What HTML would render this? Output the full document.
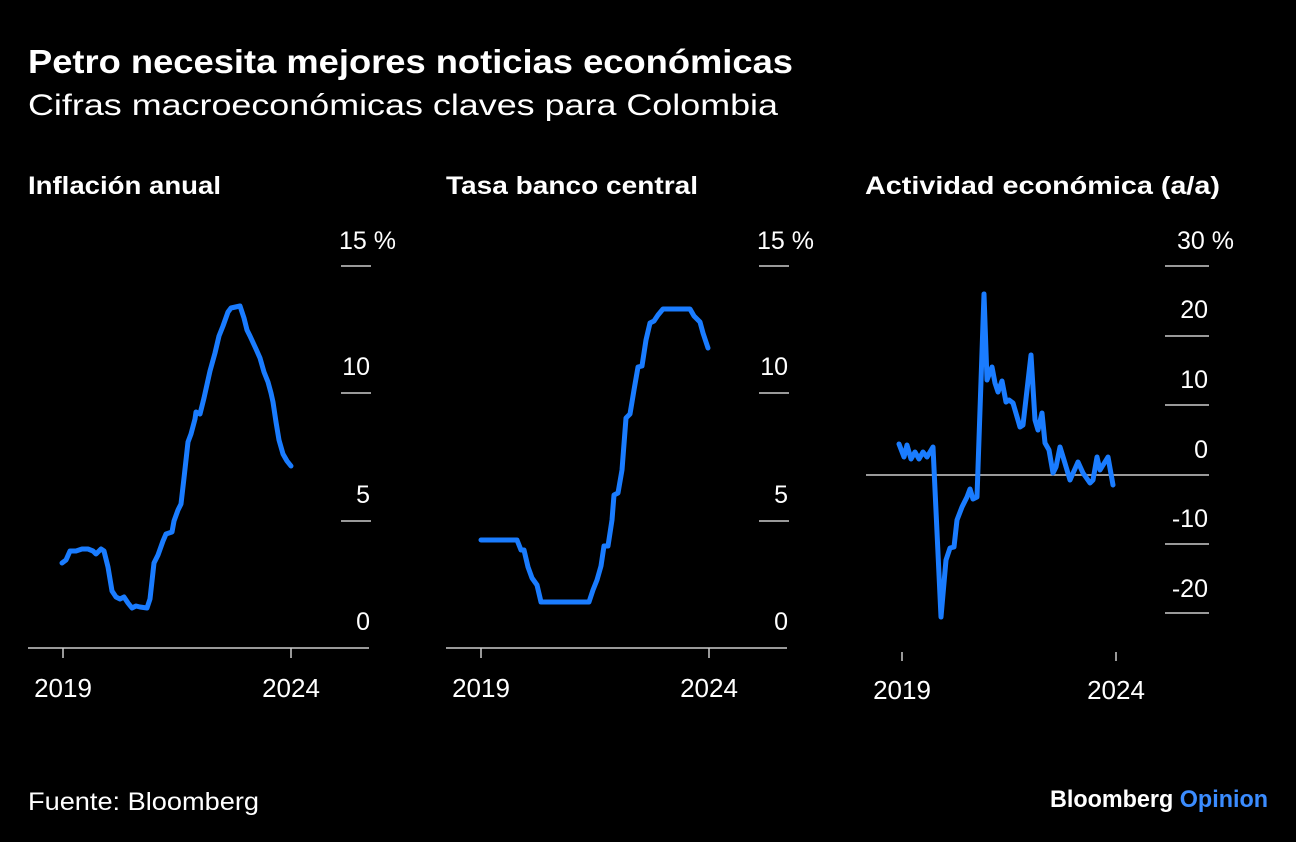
<!DOCTYPE html>
<html><head><meta charset="utf-8"><style>
html,body{margin:0;padding:0;background:#000;}
svg{display:block;font-family:"Liberation Sans",sans-serif;}
</style></head><body>
<svg width="1296" height="842" viewBox="0 0 1296 842" xmlns="http://www.w3.org/2000/svg">
<rect width="1296" height="842" fill="#000"/>
<text x="28" y="73" fill="#fff" font-size="33" font-weight="bold" textLength="765" lengthAdjust="spacingAndGlyphs">Petro necesita mejores noticias económicas</text>
<text x="28" y="115" fill="#fff" font-size="30" textLength="750" lengthAdjust="spacingAndGlyphs">Cifras macroeconómicas claves para Colombia</text>
<g fill="#fff" font-size="25" font-weight="bold">
<text x="28" y="194" textLength="193" lengthAdjust="spacingAndGlyphs">Inflación anual</text>
<text x="446" y="194" textLength="252" lengthAdjust="spacingAndGlyphs">Tasa banco central</text>
<text x="865" y="194" textLength="355" lengthAdjust="spacingAndGlyphs">Actividad económica (a/a)</text>
</g>
<g stroke="#ccc" stroke-width="1.5" fill="none">
<line x1="341" y1="266" x2="371" y2="266"/><line x1="341" y1="393" x2="371" y2="393"/><line x1="341" y1="521" x2="371" y2="521"/>
<line x1="28" y1="648" x2="369" y2="648"/><line x1="63" y1="648" x2="63" y2="658"/><line x1="291" y1="648" x2="291" y2="658"/>
<line x1="759" y1="266" x2="789" y2="266"/><line x1="759" y1="393" x2="789" y2="393"/><line x1="759" y1="521" x2="789" y2="521"/>
<line x1="446" y1="648" x2="787" y2="648"/><line x1="481" y1="648" x2="481" y2="658"/><line x1="709" y1="648" x2="709" y2="658"/>
<line x1="1165" y1="266" x2="1209" y2="266"/><line x1="1165" y1="336" x2="1209" y2="336"/><line x1="1165" y1="405" x2="1209" y2="405"/>
<line x1="866" y1="475" x2="1209" y2="475"/><line x1="1165" y1="544" x2="1209" y2="544"/><line x1="1165" y1="613" x2="1209" y2="613"/>
<line x1="902" y1="652" x2="902" y2="661"/><line x1="1116" y1="652" x2="1116" y2="661"/>
</g>
<g fill="#fff" font-size="25" text-anchor="end">
<text x="396" y="249">15 %</text><text x="370" y="375">10</text><text x="370" y="503">5</text><text x="370" y="630">0</text>
<text x="814" y="249">15 %</text><text x="788" y="375">10</text><text x="788" y="503">5</text><text x="788" y="630">0</text>
<text x="1234" y="249">30 %</text><text x="1208" y="318">20</text><text x="1208" y="388">10</text><text x="1208" y="458">0</text><text x="1208" y="527">-10</text><text x="1208" y="597">-20</text>
</g>
<g fill="#fff" font-size="26" text-anchor="middle">
<text x="63" y="697">2019</text><text x="291" y="697">2024</text>
<text x="481" y="697">2019</text><text x="709" y="697">2024</text>
<text x="902" y="699">2019</text><text x="1116" y="699">2024</text>
</g>
<g fill="none" stroke="#1a7cff" stroke-width="5" stroke-linejoin="round" stroke-linecap="round">
<polyline points="62,563 66,560 70,551 76,551 82,549 88,549 93,551 96,554 101,549 104,551 108,567 112,591 116,597 120,599 124,597 128,603 132,608 136,606 140,607 147,608 150,599 154,563 158,555 163,541 166,534 172,532 174,521 178,510 181,504 184,478 188,442 191,434 195,419 196,412 200,414 204,398 210,371 215,353 219,336 223,326 228,312 231,308 240,306 244,318 247,330 250,336 256,349 260,358 264,372 268,382 271,393 273,402 276,422 279,440 283,454 287,461 291,466"/>
<polyline points="481,540 517,540 521,550 524,550 528,567 532,578 537,585 541,602 589,602 593,590 597,580 601,566 604,546 608,546 612,520 614,495 618,493 622,470 626,418 630,414 634,390 638,367 642,366 646,340 650,323 654,321 658,315 663,309 690,309 694,316 700,322 703,333 708,348"/>
<polyline points="899,444 904,457 907,445 911,459 915,452 919,459 923,452 927,457 933,447 941,617 946,560 950,548 954,547 957,520 962,507 967,497 970,489 973,499 977,497 984,294 987,380 992,367 995,383 998,392 1002,381 1006,402 1009,400 1013,403 1020,427 1023,425 1031,355 1035,420 1038,430 1042,413 1045,443 1049,450 1053,473 1056,467 1060,447 1064,460 1070,480 1078,462 1083,473 1090,483 1093,480 1097,457 1100,470 1108,457 1113,485"/>
</g>
<text x="28" y="810" fill="#fff" font-size="25" textLength="231" lengthAdjust="spacingAndGlyphs">Fuente: Bloomberg</text>
<text x="1050" y="807" font-size="24" font-weight="bold" fill="#fff" textLength="218" lengthAdjust="spacingAndGlyphs">Bloomberg <tspan fill="#3b8cff">Opinion</tspan></text>
</svg>
</body></html>
